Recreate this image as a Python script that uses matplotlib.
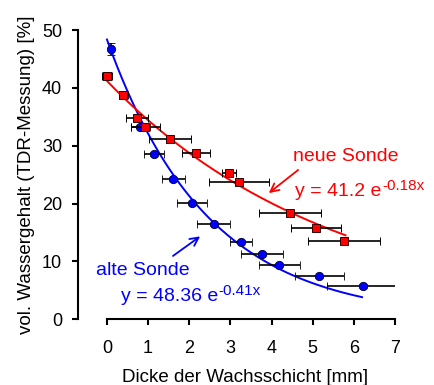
import numpy as np
import matplotlib
matplotlib.use('Agg')
import matplotlib.pyplot as plt

plt.rcParams['font.family'] = ['Liberation Sans', 'DejaVu Sans']

# neue Sonde (red squares)
neu_x = [0.0, 0.39, 0.73, 0.93, 1.54, 2.17, 2.97, 3.21, 4.45, 5.09, 5.76]
neu_y = [42.0, 38.7, 34.85, 33.2, 31.2, 28.7, 25.3, 23.7, 18.4, 15.8, 13.5]
neu_xerr = [0.13, 0.1, 0.26, 0.35, 0.51, 0.34, 0.17, 0.73, 0.76, 0.61, 0.87]
neu_yerr = [0.7, 0.4, 0.3, 0.3, 0.3, 0.3, 0.4, 0.3, 0.3, 0.3, 0.3]

# alte Sonde (blue circles)
alt_x = [0.1, 0.40, 0.81, 1.14, 1.61, 2.07, 2.59, 3.26, 3.76, 4.19, 5.16, 6.22]
alt_y = [46.7, 38.7, 33.3, 28.6, 24.25, 20.1, 16.4, 13.4, 11.3, 9.4, 7.4, 5.76]
alt_xerr = [0.05, 0.1, 0.23, 0.24, 0.28, 0.37, 0.4, 0.26, 0.51, 0.5, 0.59, 0.88]
alt_yerr = [1.0, 0.3, 0.3, 0.3, 0.3, 0.3, 0.3, 0.3, 0.3, 0.3, 0.3, 0.3]

# fit parameters as given in the chart
neu_a, neu_b, neu_xmax = 41.2, 0.18, 5.8
alt_a, alt_b, alt_xmax = 48.36, 0.41, 6.2

fig = plt.figure(figsize=(4.34, 3.85), dpi=100)
ax = fig.add_axes([0.218, 0.171, 0.692, 0.751])

xf = np.linspace(0, alt_xmax, 200)
ax.plot(xf, alt_a * np.exp(-alt_b * xf), color='#0000ff', lw=1.4, zorder=2)
xf = np.linspace(0, neu_xmax, 200)
ax.plot(xf, neu_a * np.exp(-neu_b * xf), color='#ff0000', lw=1.4, zorder=2)

ax.errorbar(alt_x, alt_y, xerr=alt_xerr, yerr=alt_yerr, fmt='o', color='#0000ff',
            mec='#000033', mew=0.6, ms=6, ecolor='black', elinewidth=1.2,
            capsize=3, capthick=1.2, zorder=3)
ax.errorbar(neu_x, neu_y, xerr=neu_xerr, yerr=neu_yerr, fmt='s', color='#ff0000',
            mec='#330000', mew=0.7, ms=6, ecolor='black', elinewidth=1.2,
            capsize=3, capthick=1.2, zorder=4)

ax.set_xlim(-0.3, 7.0)
ax.set_ylim(0, 50)
ax.spines['top'].set_visible(False)
ax.spines['right'].set_visible(False)
ax.spines['left'].set_position(('outward', 12))
ax.spines['left'].set_bounds(0, 50)
ax.spines['bottom'].set_bounds(0, 7)
for s in ('left', 'bottom'):
    ax.spines[s].set_linewidth(1.5)
ax.set_xticks(range(0, 8))
ax.set_yticks(range(0, 51, 10))
ax.tick_params(width=1.5, length=4.5, labelsize=13)
ax.tick_params(axis='y', pad=7)
ax.tick_params(axis='x', pad=10.5)

ax.set_xlabel('Dicke der Wachsschicht [mm]', fontsize=13.5, labelpad=9)
ax.set_ylabel('vol. Wassergehalt (TDR-Messung) [%]', fontsize=13.5, labelpad=5)


def equation(x, y, base, expo, color):
    # main part plus a raised exponent placed right after it
    t = ax.text(x, y, base, color=color, fontsize=14, va='center')
    ax.annotate(expo, xy=(1, 1), xycoords=t, xytext=(0.3, 3),
                textcoords='offset points', color=color, fontsize=11,
                ha='left', va='top')


ax.text(4.53, 28.2, 'neue Sonde', color='#ff0000', fontsize=14, va='center')
equation(4.58, 22.1, 'y = 41.2 e', '-0.18x', '#ff0000')
ax.text(-0.27, 8.4, 'alte Sonde', color='#0000ff', fontsize=14, va='center')
equation(0.34, 3.9, 'y = 48.36 e', '-0.41x', '#0000ff')

ax.annotate('', xy=(3.88, 21.5), xytext=(4.70, 26.1),
            arrowprops=dict(arrowstyle='->', color='#ff0000', lw=1.3,
                            mutation_scale=15))
ax.annotate('', xy=(2.32, 14.6), xytext=(1.55, 10.65),
            arrowprops=dict(arrowstyle='->', color='#0000ff', lw=1.3,
                            mutation_scale=15))

fig.savefig('out.png', dpi=100)
